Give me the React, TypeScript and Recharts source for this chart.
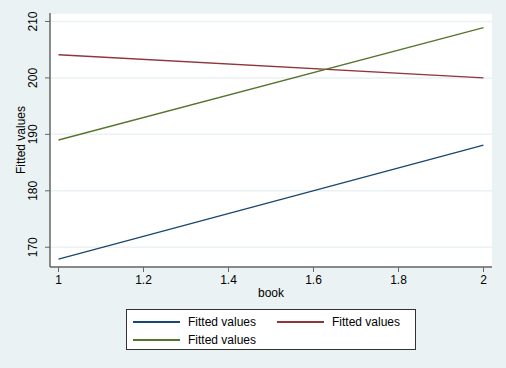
import React from 'react';
import { LineChart, Line, XAxis, YAxis, CartesianGrid, Legend, Label } from 'recharts';

const bookValues = [1, 2];
const series1 = [167.9, 188.1];
const series2 = [204.1, 200.0];
const series3 = [189.0, 208.9];
const seriesNames = ['Fitted values', 'Fitted values', 'Fitted values'];
const seriesColors = ['#1a476f', '#90353b', '#55752f'];
const xTicks = [1, 1.2, 1.4, 1.6, 1.8, 2];
const yTicks = [170, 180, 190, 200, 210];

const data = bookValues.map((b, i) => ({ book: b, s1: series1[i], s2: series2[i], s3: series3[i] }));

const FONT = 'Liberation Sans, Arial, sans-serif';

const YTick = (props: any) => {
  const { x, y, payload } = props;
  const tx = x - 6;
  return (
    <text x={tx} y={y} transform={`rotate(-90, ${tx}, ${y})`} textAnchor="middle" fontSize={12} fontFamily={FONT} fill="#000">
      {payload.value}
    </text>
  );
};

const XTick = (props: any) => {
  const { x, y, payload } = props;
  return (
    <text x={x} y={y + 10} textAnchor="middle" fontSize={12} fontFamily={FONT} fill="#000">
      {payload.value}
    </text>
  );
};

const LegendBox = () => {
  const item = (i: number) => (
    <div style={{ display: 'flex', alignItems: 'center', width: 148, height: 18 }}>
      <div style={{ width: 47, height: 2, background: seriesColors[i], marginRight: 8, marginLeft: 6 }} />
      <span style={{ fontSize: 12, fontFamily: FONT, color: '#000', whiteSpace: 'nowrap' }}>{seriesNames[i]}</span>
    </div>
  );
  return (
    <div style={{ width: 290, height: 41, background: '#fff', border: '1px solid #333', boxSizing: 'border-box', paddingTop: 3 }}>
      <div style={{ display: 'flex' }}>
        {item(0)}
        {item(1)}
      </div>
      <div style={{ display: 'flex' }}>{item(2)}</div>
    </div>
  );
};

export default function App() {
  return (
    <div style={{ position: 'fixed', left: 0, top: 0, width: 506, height: 368, background: '#eaf2f3' }}>
      <LineChart width={506} height={368} data={data} margin={{ top: 13, right: 14, left: 0, bottom: 0 }} style={{ background: '#eaf2f3' }}>
        <CartesianGrid horizontal vertical={false} stroke="#eaf2f3" strokeWidth={1.5} fill="#fff" />
        <XAxis
          dataKey="book"
          type="number"
          domain={[0.98, 2.02]}
          ticks={xTicks}
          tick={<XTick />}
          tickLine={{ stroke: '#666' }}
          tickSize={5}
          axisLine={{ stroke: '#666', strokeWidth: 1.5 }}
          height={60}
          interval={0}
        >
          <Label value="book" position="insideTop" offset={21} fontSize={12} fontFamily={FONT} fill="#000" />
        </XAxis>
        <YAxis
          type="number"
          domain={[166.5, 211.5]}
          ticks={yTicks}
          tick={<YTick />}
          tickLine={{ stroke: '#666' }}
          tickSize={5}
          axisLine={{ stroke: '#666', strokeWidth: 1.5 }}
          width={50}
          interval={0}
          allowDataOverflow
        >
          <Label value="Fitted values" angle={-90} position="center" dx={-4} fontSize={12} fontFamily={FONT} fill="#000" />
        </YAxis>
        <Legend verticalAlign="bottom" content={<LegendBox />} wrapperStyle={{ left: 126, width: 290, bottom: 18, height: 41 }} />
        <Line dataKey="s1" stroke={seriesColors[0]} strokeWidth={1.3} dot={false} isAnimationActive={false} />
        <Line dataKey="s2" stroke={seriesColors[1]} strokeWidth={1.3} dot={false} isAnimationActive={false} />
        <Line dataKey="s3" stroke={seriesColors[2]} strokeWidth={1.3} dot={false} isAnimationActive={false} />
      </LineChart>
    </div>
  );
}
